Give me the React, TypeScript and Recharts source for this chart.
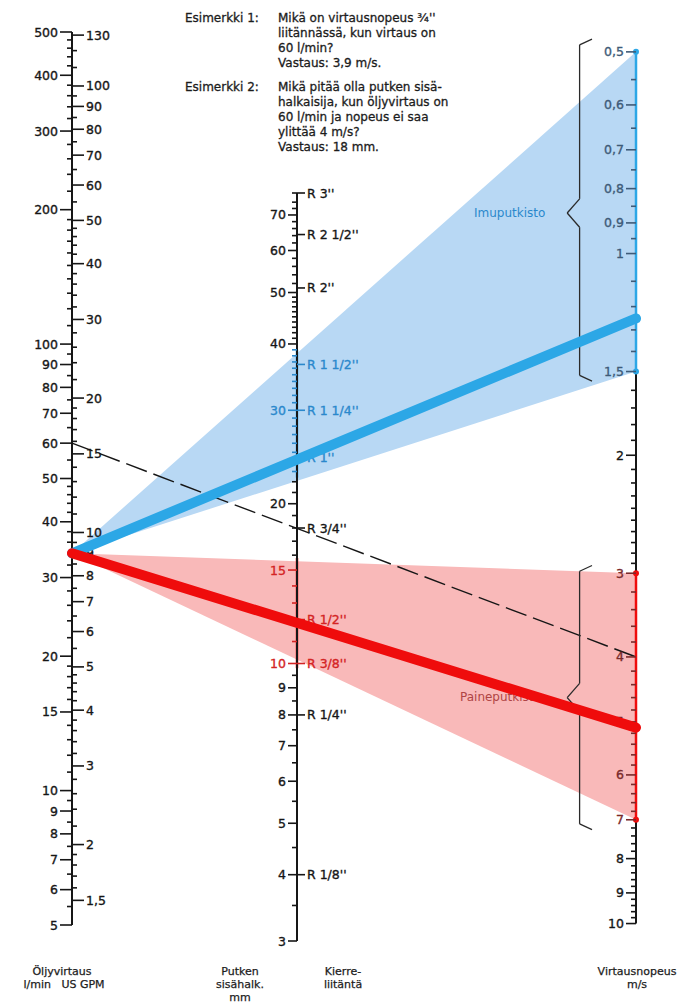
import React from 'react';
import { ComposedChart, Area, Line, XAxis, YAxis, ReferenceLine, ReferenceDot } from 'recharts';

const W = 688;
const H = 1007;
const INK = '#161616';
const FONT = '"DejaVu Sans", "Liberation Sans", sans-serif';

// Öljyvirtaus: l/min (left side) and US GPM (right side)
const flowLabels = [5, 6, 7, 8, 9, 10, 15, 20, 30, 40, 50, 60, 70, 80, 90, 100, 200, 300, 400, 500];
const flowMinor = [5.5, 6.5, 7.5, 8.5, 9.5, 11, 12, 13, 14, 16, 17, 18, 19, 22, 24, 26, 28, 32, 34, 36, 38, 42, 44, 46, 48, 55, 65, 75, 85, 95, 110, 120, 130, 140, 150, 160, 170, 180, 190, 220, 240, 260, 280, 320, 340, 360, 380, 420, 440, 460, 480];
const gpmLabels = [1.5, 2, 3, 4, 5, 6, 7, 8, 9, 10, 15, 20, 30, 40, 50, 60, 70, 80, 90, 100, 130];
const gpmMinor = [1.6, 1.7, 1.8, 1.9, 2.2, 2.4, 2.6, 2.8, 3.2, 3.4, 3.6, 3.8, 4.2, 4.4, 4.6, 4.8, 5.5, 6.5, 7.5, 8.5, 9.5, 11, 12, 13, 14, 16, 17, 18, 19, 22, 24, 26, 28, 32, 34, 36, 38, 42, 44, 46, 48, 55, 65, 75, 85, 95, 110, 120];

// Putken sisähalkaisija, mm (left side) and Kierreliitäntä (right side)
const diaLabels = [3, 4, 5, 6, 7, 8, 9, 10, 15, 20, 30, 40, 50, 60, 70];
const diaMinor = [3.5, 4.5, 5.5, 6.5, 7.5, 8.5, 9.5, 11, 12, 13, 14, 16, 17, 18, 19, 21, 22, 23, 24, 25, 26, 27, 28, 29, 31, 32, 33, 34, 35, 36, 37, 38, 39, 41, 42, 43, 44, 45, 46, 47, 48, 49, 52, 54, 56, 58, 62, 64, 66, 68, 72, 74, 77];
const threadSizes = [77, 64.3, 51, 36.6, 30, 24.4, 18, 12.1, 10, 8, 4];
const threadLabels = ["R 3''", "R 2 1/2''", "R 2''", "R 1 1/2''", "R 1 1/4''", "R 1''", "R 3/4''", "R 1/2''", "R 3/8''", "R 1/4''", "R 1/8''"];

// Virtausnopeus, m/s (right)
const speedLabels = [0.5, 0.6, 0.7, 0.8, 0.9, 1, 1.5, 2, 3, 4, 5, 6, 7, 8, 9, 10];
const speedMinor = [0.55, 0.65, 0.75, 0.85, 0.95, 1.1, 1.2, 1.3, 1.4, 1.6, 1.7, 1.8, 1.9, 2.1, 2.2, 2.3, 2.4, 2.5, 2.6, 2.7, 2.8, 2.9, 3.2, 3.4, 3.6, 3.8, 4.2, 4.4, 4.6, 4.8, 5.2, 5.4, 5.6, 5.8, 6.2, 6.4, 6.6, 6.8, 7.2, 7.4, 7.6, 7.8, 8.2, 8.4, 8.6, 8.8, 9.2, 9.4, 9.6, 9.8];

// recommended ranges and the worked example
const suctionSpeeds = [0.5, 1.5]; // Imuputkisto
const pressureSpeeds = [3, 7]; // Paineputkisto
const startFlow = 34;
const suctionSpeed = 1.25;
const pressureSpeed = 5.1;
const exampleFlow = 60;
const exampleSpeed = 4;
const suctionDia = [22.4, 39];
const pressureDia = [9.8, 15.8];
const braces = [
  { from: 0.488, tip: 0.87, to: 1.52 },
  { from: 2.98, tip: 4.6, to: 7.1 },
];

const BLUE_FILL = '#b8d8f4';
const BLUE_LINE = '#2ca7e6';
const BLUE_TEXT = '#2a88cc';
const RED_FILL = '#f9b9b9';
const RED_LINE = '#ef0c0c';
const RED_TEXT = '#d42424';

const FLOW_DOMAIN = [5, 500];
const GPM_DOMAIN = [5 / 3.785, 500 / 3.785];
const SPEED_DOMAIN = [0.467, 10.05];
const DIA_DOMAIN = [3, 77];

// velocity scale shares the plot height with the flow scale; map a speed onto the flow axis
function onFlowAxis(v: number) {
  const f = Math.log(v / SPEED_DOMAIN[0]) / Math.log(SPEED_DOMAIN[1] / SPEED_DOMAIN[0]);
  return FLOW_DOMAIN[1] * Math.pow(FLOW_DOMAIN[0] / FLOW_DOMAIN[1], f);
}

const rows = [
  {
    x: 0,
    suction: [startFlow, startFlow],
    pressure: [startFlow, startFlow],
    suctionLine: startFlow,
    pressureLine: startFlow,
    example: exampleFlow,
  },
  {
    x: 1,
    suction: [onFlowAxis(suctionSpeeds[1]), onFlowAxis(suctionSpeeds[0])],
    pressure: [onFlowAxis(pressureSpeeds[1]), onFlowAxis(pressureSpeeds[0])],
    suctionLine: onFlowAxis(suctionSpeed),
    pressureLine: onFlowAxis(pressureSpeed),
    example: onFlowAxis(exampleSpeed),
  },
];

const within = (v: number, r: number[]) => v >= Math.min(r[0], r[1]) - 1e-6 && v <= Math.max(r[0], r[1]) + 1e-6;
const comma = (v: number) => String(v).replace('.', ',');

type TickSpec = {
  side: number;
  labels: number[];
  major: number;
  minor: number;
  text: (v: number) => string;
  color?: (v: number) => string;
};

function scaleTick(spec: TickSpec) {
  return (props: any) => {
    const { x, y, payload } = props;
    const v = Number(payload.value);
    const labelled = spec.labels.some((l) => Math.abs(l - v) < 1e-6);
    const len = labelled ? spec.major : spec.minor;
    const col = spec.color ? spec.color(v) : INK;
    return (
      <g>
        <line x1={x} x2={x + spec.side * len} y1={y} y2={y} stroke={col} strokeWidth={1.6} />
        {labelled && (
          <text
            x={x + spec.side * (len + 2)}
            y={y}
            dy="0.36em"
            textAnchor={spec.side < 0 ? 'end' : 'start'}
            fontFamily={FONT}
            fontSize={12.5}
            fill={col}
            stroke={col}
            strokeWidth={0.35}
          >
            {spec.text(v)}
          </text>
        )}
      </g>
    );
  };
}

const flowTick = scaleTick({ side: -1, labels: flowLabels, major: 12, minor: 5, text: String });
const gpmTick = scaleTick({ side: 1, labels: gpmLabels, major: 12, minor: 5, text: comma });
const speedTick = scaleTick({
  side: -1,
  labels: speedLabels,
  major: 10,
  minor: 5,
  text: comma,
  color: (v) => (within(v, suctionSpeeds) ? '#3e5b78' : within(v, pressureSpeeds) ? '#7a2a2a' : INK),
});
const diaTick = scaleTick({
  side: -1,
  labels: diaLabels,
  major: 9,
  minor: 5,
  text: String,
  color: (v) => (within(v, suctionDia) ? BLUE_TEXT : within(v, pressureDia) ? RED_TEXT : INK),
});
const threadTick = scaleTick({
  side: 1,
  labels: threadSizes,
  major: 8,
  minor: 4,
  text: (v) => threadLabels[threadSizes.indexOf(v)],
  color: (v) => (within(v, suctionDia) ? BLUE_TEXT : within(v, pressureDia) ? RED_TEXT : INK),
});

const layer: React.CSSProperties = { position: 'absolute', left: 0, top: 0 };
const txt: React.CSSProperties = {
  position: 'absolute',
  fontFamily: FONT,
  fontSize: 12,
  color: '#1c1c1c',
  lineHeight: '15px',
  whiteSpace: 'nowrap',
  WebkitTextStroke: '0.3px currentColor',
};
const small: React.CSSProperties = {
  position: 'absolute',
  fontFamily: FONT,
  fontSize: 11,
  color: '#1c1c1c',
  lineHeight: '13px',
  textAlign: 'center',
  whiteSpace: 'nowrap',
  WebkitTextStroke: '0.25px currentColor',
};

const plotMargin = { top: 32, right: W - 636, bottom: H - 925, left: 72 };

function braceSegments(b: { from: number; tip: number; to: number }) {
  const bx = 0.9;
  const tx = 0.878;
  const hx = 0.922;
  return [
    [{ x: hx, y: b.from / 1.02 }, { x: bx, y: b.from }],
    [{ x: bx, y: b.from }, { x: bx, y: b.tip / 1.05 }],
    [{ x: bx, y: b.tip / 1.05 }, { x: tx, y: b.tip }],
    [{ x: tx, y: b.tip }, { x: bx, y: b.tip * 1.05 }],
    [{ x: bx, y: b.tip * 1.05 }, { x: bx, y: b.to }],
    [{ x: bx, y: b.to }, { x: hx, y: b.to * 1.02 }],
  ];
}

export default function App() {
  return (
    <div style={{ position: 'absolute', left: 0, top: 0, width: W, height: H, background: '#fff', overflow: 'hidden' }}>
      {/* fans and the dashed example */}
      <div style={layer}>
        <ComposedChart width={W} height={H} data={rows} margin={plotMargin}>
          <XAxis type="number" dataKey="x" domain={[0, 1]} hide />
          <YAxis yAxisId="q" type="number" scale="log" domain={FLOW_DOMAIN} allowDataOverflow hide />
          <Area yAxisId="q" type="linear" dataKey="suction" fill={BLUE_FILL} fillOpacity={1} stroke="none" isAnimationActive={false} />
          <Area yAxisId="q" type="linear" dataKey="pressure" fill={RED_FILL} fillOpacity={1} stroke="none" isAnimationActive={false} />
          <Line yAxisId="q" type="linear" dataKey="example" stroke={INK} strokeWidth={1.4} strokeDasharray="22 7" dot={false} isAnimationActive={false} />
        </ComposedChart>
      </div>

      <div style={{ ...txt, left: 474, top: 206, color: BLUE_TEXT, WebkitTextStroke: '0px' }}>Imuputkisto</div>
      <div style={{ ...txt, left: 460, top: 690, color: '#b04444', WebkitTextStroke: '0px' }}>Paineputkisto</div>

      {/* flow and velocity scales */}
      <div style={layer}>
        <ComposedChart width={W} height={H} data={rows} margin={{ ...plotMargin, left: 32 }}>
          <XAxis type="number" dataKey="x" domain={[0, 1]} hide />
          <YAxis
            yAxisId="q"
            orientation="left"
            width={40}
            type="number"
            scale="log"
            domain={FLOW_DOMAIN}
            allowDataOverflow
            ticks={[...flowLabels, ...flowMinor]}
            interval={0}
            tickSize={0}
            tickMargin={0}
            tickLine={false}
            axisLine={{ stroke: INK, strokeWidth: 2 }}
            tick={flowTick}
          />
          <YAxis
            yAxisId="g"
            orientation="left"
            mirror
            width={40}
            type="number"
            scale="log"
            domain={GPM_DOMAIN}
            allowDataOverflow
            ticks={[...gpmLabels, ...gpmMinor]}
            interval={0}
            tickSize={0}
            tickMargin={0}
            tickLine={false}
            axisLine={false}
            tick={gpmTick}
          />
          <YAxis
            yAxisId="v"
            orientation="right"
            mirror
            reversed
            width={40}
            type="number"
            scale="log"
            domain={SPEED_DOMAIN}
            allowDataOverflow
            ticks={[...speedLabels, ...speedMinor]}
            interval={0}
            tickSize={0}
            tickMargin={0}
            tickLine={false}
            axisLine={false}
            tick={speedTick}
          />
          <ReferenceLine yAxisId="v" segment={[{ x: 1, y: 0.5 }, { x: 1, y: 10 }]} stroke={INK} strokeWidth={2} />
          <ReferenceLine yAxisId="v" segment={[{ x: 1, y: suctionSpeeds[0] }, { x: 1, y: suctionSpeeds[1] }]} stroke={BLUE_LINE} strokeWidth={2.5} />
          <ReferenceLine yAxisId="v" segment={[{ x: 1, y: pressureSpeeds[0] }, { x: 1, y: pressureSpeeds[1] }]} stroke={RED_LINE} strokeWidth={2.5} />
          {suctionSpeeds.map((s) => (
            <ReferenceDot key={`s${s}`} yAxisId="v" x={1} y={s} r={3} fill={BLUE_LINE} stroke="none" />
          ))}
          {pressureSpeeds.map((s) => (
            <ReferenceDot key={`p${s}`} yAxisId="v" x={1} y={s} r={3} fill={RED_LINE} stroke="none" />
          ))}
          {braces.flatMap((b, i) =>
            braceSegments(b).map((seg, j) => (
              <ReferenceLine key={`b${i}-${j}`} yAxisId="v" segment={seg} stroke="#2a2a2a" strokeWidth={1.3} />
            )),
          )}
        </ComposedChart>
      </div>

      {/* pipe diameter scale */}
      <div style={layer}>
        <ComposedChart width={W} height={H} data={rows} margin={{ top: 193, right: W - 307, bottom: H - 941, left: 257 }}>
          <XAxis type="number" dataKey="x" domain={[0, 1]} hide />
          <YAxis
            yAxisId="d"
            orientation="left"
            width={40}
            type="number"
            scale="log"
            domain={DIA_DOMAIN}
            allowDataOverflow
            ticks={[...diaLabels, ...diaMinor]}
            interval={0}
            tickSize={0}
            tickMargin={0}
            tickLine={false}
            axisLine={{ stroke: INK, strokeWidth: 2 }}
            tick={diaTick}
          />
          <YAxis
            yAxisId="r"
            orientation="left"
            mirror
            width={60}
            type="number"
            scale="log"
            domain={DIA_DOMAIN}
            allowDataOverflow
            ticks={threadSizes}
            interval={0}
            tickSize={0}
            tickMargin={0}
            tickLine={false}
            axisLine={false}
            tick={threadTick}
          />
          <ReferenceLine yAxisId="d" segment={[{ x: 0, y: suctionDia[0] }, { x: 0, y: suctionDia[1] }]} stroke={BLUE_LINE} strokeWidth={2.5} />
          <ReferenceLine yAxisId="d" segment={[{ x: 0, y: pressureDia[0] }, { x: 0, y: pressureDia[1] }]} stroke={RED_LINE} strokeWidth={2.5} />
        </ComposedChart>
      </div>

      {/* thick result lines */}
      <div style={layer}>
        <ComposedChart width={W} height={H} data={rows} margin={plotMargin}>
          <XAxis type="number" dataKey="x" domain={[0, 1]} hide />
          <YAxis yAxisId="q" type="number" scale="log" domain={FLOW_DOMAIN} allowDataOverflow hide />
          <Line yAxisId="q" type="linear" dataKey="suctionLine" stroke={BLUE_LINE} strokeWidth={10} strokeLinecap="round" dot={false} isAnimationActive={false} />
          <Line yAxisId="q" type="linear" dataKey="pressureLine" stroke={RED_LINE} strokeWidth={10} strokeLinecap="round" dot={false} isAnimationActive={false} />
        </ComposedChart>
      </div>

      {/* examples */}
      <div style={{ ...txt, left: 185, top: 11 }}>Esimerkki 1:</div>
      <div style={{ ...txt, left: 278, top: 11 }}>
        Mikä on virtausnopeus ¾''
        <br />
        liitännässä, kun virtaus on
        <br />
        60 l/min?
        <br />
        Vastaus: 3,9 m/s.
      </div>
      <div style={{ ...txt, left: 185, top: 80 }}>Esimerkki 2:</div>
      <div style={{ ...txt, left: 278, top: 80 }}>
        Mikä pitää olla putken sisä-
        <br />
        halkaisija, kun öljyvirtaus on
        <br />
        60 l/min ja nopeus ei saa
        <br />
        ylittää 4 m/s?
        <br />
        Vastaus: 18 mm.
      </div>

      {/* scale titles */}
      <div style={{ ...small, left: 22, top: 965, width: 80 }}>Öljyvirtaus</div>
      <div style={{ ...small, left: 4, top: 978, width: 120 }}>l/min&nbsp;&nbsp;&nbsp;US GPM</div>
      <div style={{ ...small, left: 200, top: 965, width: 80 }}>
        Putken
        <br />
        sisähalk.
        <br />
        mm
      </div>
      <div style={{ ...small, left: 303, top: 965, width: 80 }}>
        Kierre-
        <br />
        liitäntä
      </div>
      <div style={{ ...small, left: 587, top: 965, width: 100 }}>
        Virtausnopeus
        <br />
        m/s
      </div>
    </div>
  );
}
